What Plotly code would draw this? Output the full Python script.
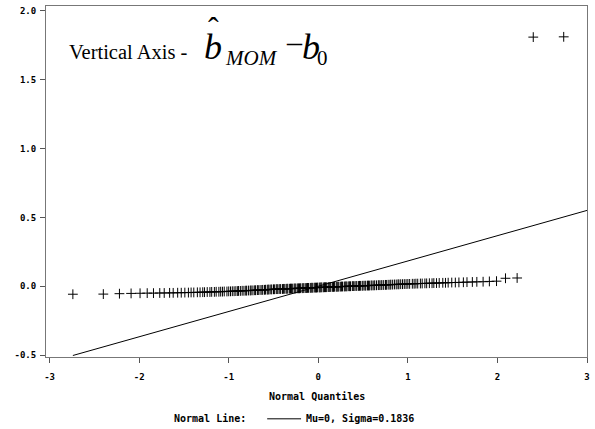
import plotly.graph_objects as go

# ---- data ----
normal_quantiles = [
    -2.74, -2.40, -2.22, -2.09, -1.99, -1.91, -1.84, -1.77, -1.72, -1.66,
    -1.62, -1.57, -1.53, -1.49, -1.45, -1.42, -1.39, -1.35, -1.32, -1.29,
    -1.27, -1.24, -1.21, -1.19, -1.16, -1.14, -1.11, -1.09, -1.07, -1.05,
    -1.02, -1.00, -0.98, -0.96, -0.94, -0.92, -0.90, -0.89, -0.87, -0.85,
    -0.83, -0.81, -0.80, -0.78, -0.76, -0.75, -0.73, -0.71, -0.70, -0.68,
    -0.67, -0.65, -0.63, -0.62, -0.60, -0.59, -0.57, -0.56, -0.55, -0.53,
    -0.52, -0.50, -0.49, -0.47, -0.46, -0.45, -0.43, -0.42, -0.40, -0.39,
    -0.38, -0.36, -0.35, -0.34, -0.32, -0.31, -0.30, -0.29, -0.27, -0.26,
    -0.25, -0.23, -0.22, -0.21, -0.20, -0.18, -0.17, -0.16, -0.14, -0.13,
    -0.12, -0.11, -0.09, -0.08, -0.07, -0.06, -0.04, -0.03, -0.02, -0.01,
    0.01, 0.02, 0.03, 0.04, 0.06, 0.07, 0.08, 0.09, 0.11, 0.12,
    0.13, 0.14, 0.16, 0.17, 0.18, 0.20, 0.21, 0.22, 0.23, 0.25,
    0.26, 0.27, 0.29, 0.30, 0.31, 0.32, 0.34, 0.35, 0.36, 0.38,
    0.39, 0.40, 0.42, 0.43, 0.45, 0.46, 0.47, 0.49, 0.50, 0.52,
    0.53, 0.55, 0.56, 0.57, 0.59, 0.60, 0.62, 0.63, 0.65, 0.67,
    0.68, 0.70, 0.71, 0.73, 0.75, 0.76, 0.78, 0.80, 0.81, 0.83,
    0.85, 0.87, 0.89, 0.90, 0.92, 0.94, 0.96, 0.98, 1.00, 1.02,
    1.05, 1.07, 1.09, 1.11, 1.14, 1.16, 1.19, 1.21, 1.24, 1.27,
    1.29, 1.32, 1.35, 1.39, 1.42, 1.45, 1.49, 1.53, 1.57, 1.62,
    1.66, 1.72, 1.77, 1.84, 1.91, 1.99, 2.09, 2.22, 2.40, 2.74,
]

b_mom_minus_b0 = [
    -0.058, -0.057, -0.054, -0.052, -0.051, -0.050, -0.050, -0.049, -0.049, -0.048,
    -0.048, -0.047, -0.047, -0.046, -0.046, -0.045, -0.045, -0.044, -0.044, -0.043,
    -0.043, -0.042, -0.042, -0.041, -0.041, -0.040, -0.040, -0.039, -0.039, -0.038,
    -0.038, -0.037, -0.037, -0.036, -0.036, -0.035, -0.035, -0.034, -0.034, -0.033,
    -0.033, -0.032, -0.032, -0.031, -0.031, -0.030, -0.030, -0.029, -0.029, -0.028,
    -0.028, -0.027, -0.027, -0.026, -0.026, -0.025, -0.025, -0.024, -0.024, -0.023,
    -0.023, -0.022, -0.022, -0.021, -0.021, -0.021, -0.020, -0.020, -0.020, -0.019,
    -0.019, -0.019, -0.018, -0.018, -0.018, -0.017, -0.017, -0.017, -0.016, -0.016,
    -0.016, -0.015, -0.015, -0.015, -0.014, -0.014, -0.014, -0.013, -0.013, -0.013,
    -0.012, -0.012, -0.012, -0.011, -0.011, -0.011, -0.010, -0.010, -0.010, -0.009,
    -0.009, -0.009, -0.008, -0.008, -0.008, -0.007, -0.007, -0.007, -0.006, -0.006,
    -0.006, -0.005, -0.005, -0.005, -0.004, -0.004, -0.004, -0.003, -0.003, -0.003,
    -0.002, -0.002, -0.002, -0.001, -0.001, -0.001, 0.000, 0.000, 0.000, 0.001,
    0.001, 0.001, 0.002, 0.002, 0.002, 0.003, 0.003, 0.003, 0.004, 0.004,
    0.004, 0.005, 0.005, 0.005, 0.006, 0.006, 0.006, 0.007, 0.007, 0.008,
    0.008, 0.008, 0.009, 0.009, 0.010, 0.010, 0.011, 0.011, 0.012, 0.012,
    0.013, 0.013, 0.014, 0.014, 0.015, 0.015, 0.016, 0.016, 0.017, 0.017,
    0.018, 0.018, 0.019, 0.019, 0.020, 0.020, 0.021, 0.021, 0.022, 0.022,
    0.023, 0.023, 0.024, 0.025, 0.025, 0.026, 0.027, 0.027, 0.028, 0.029,
    0.030, 0.031, 0.032, 0.033, 0.035, 0.037, 0.058, 0.060, 1.810, 1.812,
]

# Normal reference line: Mu=0, Sigma=0.1836
normal_line_x = [-2.74, 3.00]
normal_line_y = [-0.503, 0.551]

x_tick_vals = [-3, -2, -1, 0, 1, 2, 3]
x_tick_text = ["-3", "-2", "-1", "0", "1", "2", "3"]
y_tick_vals = [-0.5, 0.0, 0.5, 1.0, 1.5, 2.0]
y_tick_text = ["-0.5", "0.0", "0.5", "1.0", "1.5", "2.0"]

# ---- layout geometry (pixels) ----
W, H = 595, 429
L, R, T, B = 46, 6, 5, 72
PW, PH = W - L - R, H - T - B


def px(x):
    return (x - L) / PW


def py(y):
    return (H - B - y) / PH


mono = "DejaVu Sans Mono"
serif = "Liberation Serif"

fig = go.Figure()
fig.add_trace(go.Scatter(
    x=normal_line_x, y=normal_line_y, mode="lines",
    line=dict(color="black", width=1), hoverinfo="skip"))
fig.add_trace(go.Scatter(
    x=normal_quantiles, y=b_mom_minus_b0, mode="markers",
    marker=dict(symbol="cross-thin", size=7, color="black",
                line=dict(color="black", width=1))))

axis_common = dict(
    showgrid=False, zeroline=False, showline=True, mirror=True,
    linecolor="#777777", linewidth=1, ticks="outside", ticklen=5,
    tickcolor="#555555", tickwidth=1,
    tickfont=dict(family=mono, size=9, color="black", weight="bold"),
)
fig.update_xaxes(range=[-3.04, 3.0], tickvals=x_tick_vals, ticktext=x_tick_text,
                 ticklabelstandoff=6, **axis_common)
fig.update_yaxes(range=[-0.514, 2.036], tickvals=y_tick_vals, ticktext=y_tick_text,
                 ticklabelstandoff=2, **axis_common)

ann = []
lab_font = dict(family=mono, size=10, color="black", weight="bold")
ann.append(dict(text="Normal Quantiles", x=px(318), y=py(397), xanchor="center",
                yanchor="middle", font=lab_font))
ann.append(dict(text="Normal Line:", x=px(172), y=py(419), xanchor="left",
                yanchor="middle", font=lab_font))
ann.append(dict(text="Mu=0, Sigma=0.1836", x=px(305), y=py(419), xanchor="left",
                yanchor="middle", font=lab_font))

# in-plot label: "Vertical Axis - b̂_MOM − b_0"
ann.append(dict(text="Vertical Axis -", x=px(67), y=py(51), xanchor="left",
                yanchor="middle", font=dict(family=serif, size=20.5, color="black")))
ann.append(dict(text="<i>b</i>", x=px(203), y=py(46), xanchor="left",
                yanchor="middle", font=dict(family=serif, size=36, color="black")))
ann.append(dict(text="ˆ", x=px(214), y=py(27), xanchor="center",
                yanchor="middle", font=dict(family=serif, size=32, color="black")))
ann.append(dict(text="<i>MOM</i>", x=px(224), y=py(57), xanchor="left",
                yanchor="middle", font=dict(family=serif, size=21, color="black")))
ann.append(dict(text="–", x=px(295), y=py(41), xanchor="center",
                yanchor="middle", font=dict(family=serif, size=30, color="black")))
ann.append(dict(text="<i>b</i>", x=px(301), y=py(46), xanchor="left",
                yanchor="middle", font=dict(family=serif, size=36, color="black")))
ann.append(dict(text="0", x=px(316), y=py(57), xanchor="left",
                yanchor="middle", font=dict(family=serif, size=21, color="black")))

for a in ann:
    a.update(xref="paper", yref="paper", showarrow=False)

fig.update_layout(
    width=W, height=H, margin=dict(l=L, r=R, t=T, b=B),
    plot_bgcolor="white", paper_bgcolor="white", showlegend=False,
    annotations=ann,
    shapes=[dict(type="line", xref="paper", yref="paper",
                 x0=px(268), x1=px(302), y0=py(419), y1=py(419),
                 line=dict(color="black", width=1))],
)

fig.write_html("out.html", config={"displayModeBar": False},
               post_script="document.body.style.margin='0px';")
